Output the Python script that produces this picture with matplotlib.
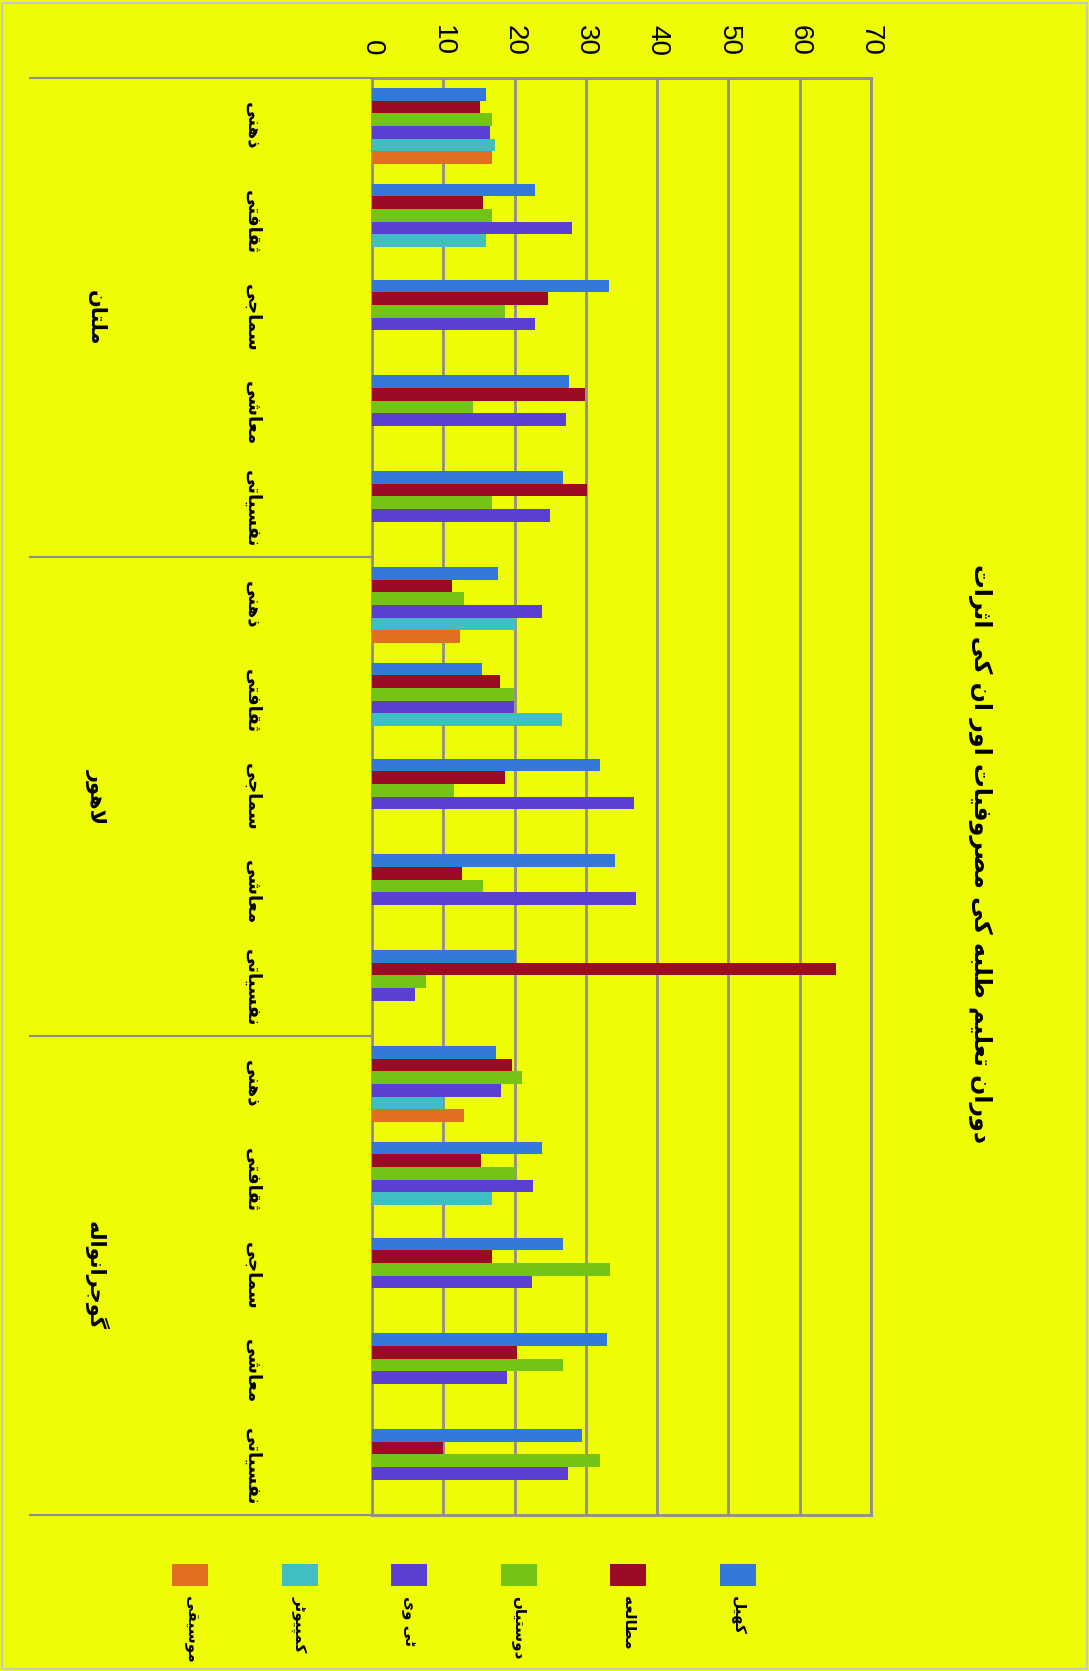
import numpy as np
import matplotlib
matplotlib.use("Agg")
import matplotlib.pyplot as plt
import matplotlib.transforms as mtransforms
from matplotlib import font_manager, ft2font
from matplotlib.patches import Rectangle

BG = '#eefc04'
GRID = '#8e8e8e'
URDU_FONT = 'DejaVu Sans'

TITLE = 'دوران تعلیم طلبہ کی مصروفیات اور ان کے اثرات'
GROUPS = ['ملتان', 'لاہور', 'گوجرانوالہ']
SUBCATS = ['ذہنی', 'ثقافتی', 'سماجی', 'معاشی', 'نفسیاتی']
SERIES = ['کھیل', 'مطالعہ', 'دوستیاں', 'ٹی وی', 'کمپیوٹر', 'موسیقی']
COLORS = ['#3479d9', '#9c0a26', '#74c416', '#5a3fd2', '#41bdc4', '#e0701f']

blue = [16.0, 22.9, 33.2, 27.7, 26.8, 17.7, 15.4, 32.0, 34.1, 20.2, 17.4, 23.8, 26.8, 32.9, 29.5]
red = [15.1, 15.6, 24.7, 29.9, 30.2, 11.2, 18.0, 18.6, 12.6, 65.1, 19.6, 15.3, 16.8, 20.4, 9.9]
green = [16.9, 16.9, 18.6, 14.2, 16.8, 12.9, 19.9, 11.5, 15.6, 7.6, 21.1, 20.2, 33.4, 26.8, 32.0]
purple = [16.5, 28.1, 22.9, 27.2, 25.0, 23.8, 19.9, 36.8, 37.1, 6.1, 18.1, 22.6, 22.5, 19.0, 27.5]
cyan = [17.2, 16.0, 0, 0, 0, 20.2, 26.6, 0, 0, 0, 9.9, 16.8, 0, 0, 0]
orange = [16.9, 0, 0, 0, 0, 12.4, 0, 0, 0, 0, 12.9, 0, 0, 0, 0]
values = [blue, red, green, purple, cyan, orange]

# isolated, final, initial, medial presentation forms
FORMS = {
    'ا': (0xFE8D, 0xFE8E, None, None), 'آ': (0xFE81, 0xFE82, None, None),
    'ب': (0xFE8F, 0xFE90, 0xFE91, 0xFE92), 'پ': (0xFB56, 0xFB57, 0xFB58, 0xFB59),
    'ت': (0xFE95, 0xFE96, 0xFE97, 0xFE98), 'ٹ': (0xFB66, 0xFB67, 0xFB68, 0xFB69),
    'ث': (0xFE99, 0xFE9A, 0xFE9B, 0xFE9C), 'ج': (0xFE9D, 0xFE9E, 0xFE9F, 0xFEA0),
    'چ': (0xFB7A, 0xFB7B, 0xFB7C, 0xFB7D), 'ح': (0xFEA1, 0xFEA2, 0xFEA3, 0xFEA4),
    'خ': (0xFEA5, 0xFEA6, 0xFEA7, 0xFEA8), 'د': (0xFEA9, 0xFEAA, None, None),
    'ڈ': (0xFB88, 0xFB89, None, None), 'ذ': (0xFEAB, 0xFEAC, None, None),
    'ر': (0xFEAD, 0xFEAE, None, None), 'ڑ': (0xFB8C, 0xFB8D, None, None),
    'ز': (0xFEAF, 0xFEB0, None, None), 'ژ': (0xFB8A, 0xFB8B, None, None),
    'س': (0xFEB1, 0xFEB2, 0xFEB3, 0xFEB4), 'ش': (0xFEB5, 0xFEB6, 0xFEB7, 0xFEB8),
    'ص': (0xFEB9, 0xFEBA, 0xFEBB, 0xFEBC), 'ض': (0xFEBD, 0xFEBE, 0xFEBF, 0xFEC0),
    'ط': (0xFEC1, 0xFEC2, 0xFEC3, 0xFEC4), 'ظ': (0xFEC5, 0xFEC6, 0xFEC7, 0xFEC8),
    'ع': (0xFEC9, 0xFECA, 0xFECB, 0xFECC), 'غ': (0xFECD, 0xFECE, 0xFECF, 0xFED0),
    'ف': (0xFED1, 0xFED2, 0xFED3, 0xFED4), 'ق': (0xFED5, 0xFED6, 0xFED7, 0xFED8),
    'ک': (0xFB8E, 0xFB8F, 0xFB90, 0xFB91), 'گ': (0xFB92, 0xFB93, 0xFB94, 0xFB95),
    'ل': (0xFEDD, 0xFEDE, 0xFEDF, 0xFEE0), 'م': (0xFEE1, 0xFEE2, 0xFEE3, 0xFEE4),
    'ن': (0xFEE5, 0xFEE6, 0xFEE7, 0xFEE8), 'ں': (0xFB9E, 0xFB9F, None, None),
    'و': (0xFEED, 0xFEEE, None, None), 'ہ': (0xFBA6, 0xFBA7, 0xFBA8, 0xFBA9),
    'ھ': (0xFBAA, 0xFBAB, 0xFBAC, 0xFBAD), 'ی': (0xFBFC, 0xFBFD, 0xFBFE, 0xFBFF),
    'ے': (0xFBAE, 0xFBAF, None, None),
}
# stand-in forms for the letters the font does not carry
ALT = {
    0xFBA6: 0xFEE9, 0xFBA7: 0xFEEA, 0xFBA8: 0xFEEB, 0xFBA9: 0xFEEC,
    0xFBAE: 0xFEEF, 0xFBAF: 0xFEF0,
    0xFBAA: 0xFEE9, 0xFBAB: 0xFEEA, 0xFBAC: 0xFEEB, 0xFBAD: 0xFEEC,
    0xFB9E: 0xFEE5, 0xFB9F: 0xFEE6,
}

font_path = font_manager.findfont(font_manager.FontProperties(family=URDU_FONT, weight='bold'))
CMAP = ft2font.FT2Font(font_path).get_charmap()


def joins_next(ch):
    return ch in FORMS and FORMS[ch][2] is not None


def glyph(cp, base):
    if cp in CMAP:
        return chr(cp)
    if ALT.get(cp) in CMAP:
        return chr(ALT[cp])
    return base


def urdu(text):
    # matplotlib does no shaping: pick contextual forms and lay out right to left
    out = []
    i = 0
    while i < len(text):
        c = text[i]
        if c not in FORMS:
            out.append(c)
            i += 1
            continue
        prev = text[i - 1] if i > 0 else ''
        nxt = text[i + 1] if i + 1 < len(text) else ''
        link_prev = joins_next(prev)
        if c == 'ل' and nxt == 'ا':
            out.append(chr(0xFEFC if link_prev else 0xFEFB))
            i += 2
            continue
        link_next = joins_next(c) and nxt in FORMS
        iso, fin, ini, med = FORMS[c]
        if link_prev and link_next:
            cp = med
        elif link_prev:
            cp = fin
        elif link_next:
            cp = ini
        else:
            cp = iso
        out.append(glyph(cp, c))
        i += 1
    return ''.join(reversed(out))


W, H = 1089, 1671
fig = plt.figure(figsize=(W / 100, H / 100), dpi=100, facecolor=BG)
x0, x1, ytop, ybot = 372, 871, 78, 1515
ax = fig.add_axes([x0 / W, 1 - ybot / H, (x1 - x0) / W, (ybot - ytop) / H])
ax.set_facecolor(BG)

n_cat = len(GROUPS) * len(SUBCATS)
pos = np.arange(n_cat)
h = 0.1317
for j, (vals, col) in enumerate(zip(values, COLORS)):
    ax.barh(pos + (j - 2.5) * h, vals, height=h, color=col, linewidth=0, zorder=3)

ax.set_xlim(0, 70)
ax.set_ylim(n_cat - 0.5, -0.5)
ax.set_xticks(range(0, 71, 10))
ax.set_yticks([])
ax.grid(axis='x', color=GRID, lw=2)
ax.set_axisbelow(True)
ax.tick_params(axis='x', top=True, bottom=False, labeltop=True, labelbottom=False,
               length=0, pad=16, labelsize=20, labelrotation=-90)
for lab in ax.get_xticklabels():
    lab.set_fontfamily('Liberation Sans')
for s in ax.spines.values():
    s.set_color(GRID)
    s.set_linewidth(2)

# two-level category axis on the left
tr = mtransforms.blended_transform_factory(ax.transAxes, ax.transData)
left_edge = (30 - x0) / (x1 - x0)
for g in range(len(GROUPS) + 1):
    yb = g * len(SUBCATS) - 0.5
    ax.plot([left_edge, 0], [yb, yb], transform=tr, color=GRID, lw=1.5, clip_on=False)
for k in range(n_cat):
    ax.text((252 - x0) / (x1 - x0), k, urdu(SUBCATS[k % len(SUBCATS)]), transform=tr,
            rotation=-90, ha='center', va='center', fontsize=13, fontweight='bold',
            family=[URDU_FONT])
for g, name in enumerate(GROUPS):
    ax.text((96 - x0) / (x1 - x0), g * len(SUBCATS) + 2, urdu(name), transform=tr,
            rotation=-90, ha='center', va='center', fontsize=15, fontweight='bold',
            family=[URDU_FONT])

fig.text(980 / W, 1 - 853 / H, urdu(TITLE), rotation=-90, ha='center', va='center',
         fontsize=17, fontweight='bold', family=[URDU_FONT])

# legend along the bottom, first series on the right
for j, (name, col) in enumerate(zip(SERIES, COLORS)):
    cx = 738 - j * 109.6
    fig.add_artist(Rectangle(((cx - 18) / W, 1 - 1586 / H), 36 / W, 22 / H,
                             transform=fig.transFigure, color=col, lw=0))
    fig.text(cx / W, 1 - 1596 / H, urdu(name), rotation=-90, ha='center', va='top',
             fontsize=11, fontweight='bold', family=[URDU_FONT])

fig.add_artist(Rectangle((0.002, 0.001), 0.996, 0.997, transform=fig.transFigure,
                         fill=False, ec='#c8c8c8', lw=1.5))

fig.savefig('out.png', dpi=100, facecolor=BG)
